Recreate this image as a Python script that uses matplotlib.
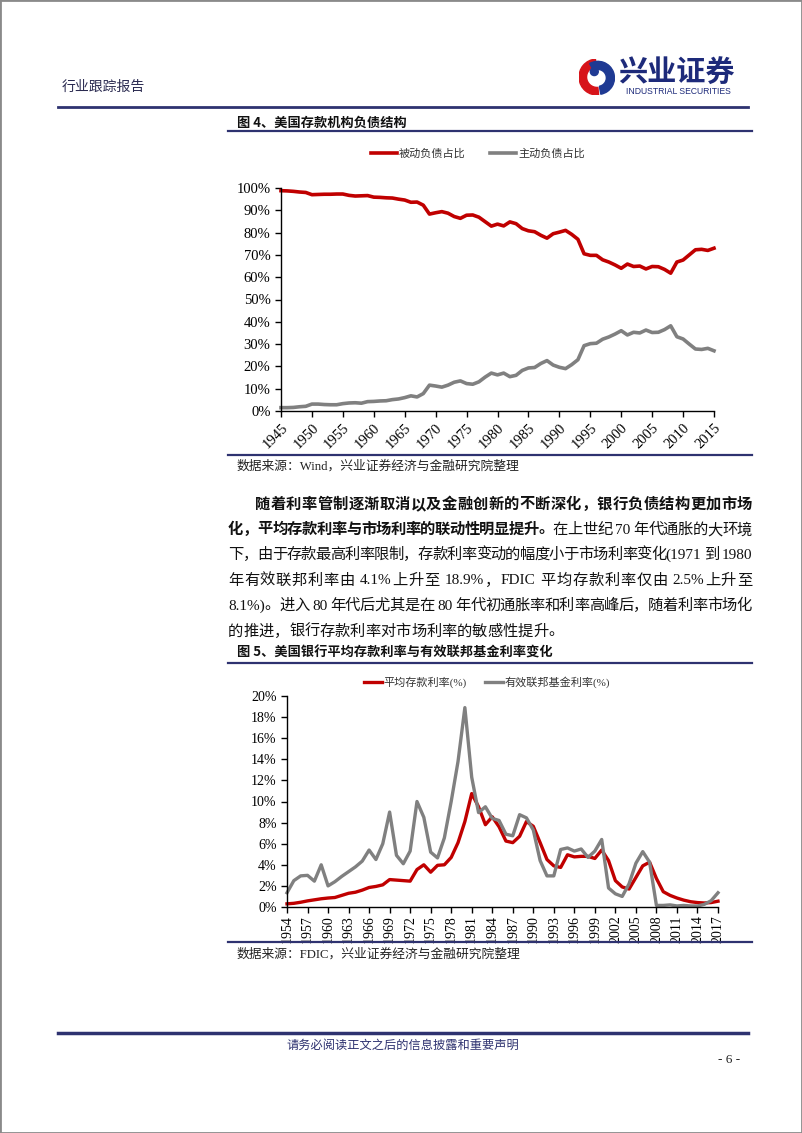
import re
import matplotlib
matplotlib.use('Agg')
import matplotlib.pyplot as plt
from matplotlib.lines import Line2D
from matplotlib.patches import Rectangle, Wedge, Circle

W, H = 802, 1133
NAVY = '#2e3270'
RED = '#c00000'
GRAY = '#808080'
CJK = ['Noto Sans CJK SC', 'DejaVu Sans']
SERIF_CJK = ['Liberation Serif', 'Noto Sans CJK SC']

# 图4 数据（%）
years1 = list(range(1945, 2016))
passive = [98.8, 98.7, 98.5, 98.2, 98.0, 97.0, 97.1, 97.2, 97.2, 97.3,
           97.3, 96.7, 96.4, 96.5, 96.6, 95.9, 95.8, 95.6, 95.5, 95.0,
           94.6, 93.6, 93.7, 92.3, 88.3, 88.9, 89.4, 88.7, 87.2, 86.4,
           87.8, 87.9, 86.9, 84.9, 82.9, 83.8, 83.0, 84.8, 84.0, 81.8,
           80.8, 80.4, 78.8, 77.5, 79.5, 80.2, 81.0, 79.2, 77.0, 70.5,
           69.8, 69.8, 67.8, 66.8, 65.5, 64.0, 65.9, 64.8, 65.0, 63.7,
           64.8, 64.7, 63.5, 61.8, 66.8, 67.7, 70.0, 72.3, 72.5, 72.0,
           73.0]
active = [1.5, 1.5, 1.6, 1.9, 2.1, 3.1, 3.1, 2.9, 2.8, 2.8,
          3.3, 3.6, 3.7, 3.5, 4.2, 4.3, 4.5, 4.6, 5.1, 5.4,
          6.0, 6.8, 6.3, 7.8, 11.6, 11.2, 10.7, 11.6, 12.9, 13.5,
          12.3, 12.0, 13.1, 15.2, 17.0, 16.2, 17.0, 15.4, 16.0, 18.2,
          19.3, 19.5, 21.3, 22.6, 20.6, 19.6, 19.0, 20.8, 23.0, 29.3,
          30.2, 30.4, 32.2, 33.2, 34.5, 36.0, 34.1, 35.3, 35.0, 36.3,
          35.2, 35.3, 36.5, 38.2, 33.3, 32.3, 30.0, 27.8, 27.6, 28.1,
          27.0]

# 图5 数据（%）
years2 = list(range(1954, 2018))
deposit_rate = [0.30, 0.35, 0.45, 0.58, 0.68, 0.78, 0.85, 0.90, 1.10, 1.30,
                1.40, 1.60, 1.85, 1.95, 2.10, 2.60, 2.55, 2.50, 2.45, 3.55,
                4.00, 3.30, 3.95, 4.00, 4.70, 6.10, 8.10, 10.75, 9.50, 7.80,
                8.55, 7.60, 6.25, 6.10, 6.70, 8.10, 7.65, 6.10, 4.50, 3.90,
                3.75, 4.95, 4.75, 4.80, 4.80, 4.60, 5.40, 4.40, 2.50, 1.90,
                1.70, 2.80, 3.90, 4.25, 2.70, 1.45, 1.10, 0.85, 0.65, 0.50,
                0.42, 0.38, 0.42, 0.55]
fed_rate = [1.35, 2.50, 2.95, 3.00, 2.45, 4.00, 2.00, 2.40, 2.90, 3.35,
            3.80, 4.35, 5.40, 4.50, 6.00, 9.00, 4.90, 4.10, 5.30, 10.00,
            8.50, 5.20, 4.65, 6.55, 10.00, 13.80, 18.90, 12.30, 8.95, 9.50,
            8.40, 8.20, 6.90, 6.75, 8.75, 8.45, 7.30, 4.40, 2.95, 2.95,
            5.45, 5.60, 5.30, 5.50, 4.70, 5.30, 6.40, 1.80, 1.25, 1.00,
            2.20, 4.15, 5.25, 4.25, 0.15, 0.15, 0.20, 0.10, 0.15, 0.10,
            0.10, 0.25, 0.60, 1.35]

fig = plt.figure(figsize=(W / 100, H / 100), dpi=100)


def fx(x):
    return x / W


def fy(y):
    return 1 - y / H


def hline(y, x0, x1, lw=1.6, color=NAVY):
    fig.add_artist(Line2D([fx(x0), fx(x1)], [fy(y), fy(y)], lw=lw, color=color))


def axes_px(l, t, r, b):
    return fig.add_axes([fx(l), fy(b), (r - l) / W, (b - t) / H])


def text_line(parts, y, x0, x1=None, size=11):
    # 逐字排版，两端对齐
    rend = fig.canvas.get_renderer()
    items = []
    for s, bold in parts:
        for tok in re.findall(r'[A-Za-z0-9.%()]+| |.', s):
            items.append((tok, bold))
    arts, widths = [], []
    for tok, bold in items:
        if tok == ' ':
            arts.append(None)
            widths.append(size * 0.25 * 100 / 72)
            continue
        t = fig.text(0, fy(y), tok, fontsize=size, family=SERIF_CJK,
                     fontweight='bold' if bold else 'normal', va='center', color='#111111')
        arts.append(t)
        widths.append(t.get_window_extent(rend).width)
    extra = 0
    if x1 is not None and len(items) > 1:
        extra = (x1 - x0 - sum(widths)) / (len(items) - 1)
    x = x0
    for a, w in zip(arts, widths):
        if a is not None:
            a.set_x(fx(x))
        x += w + extra


def style_axes(ax, size=10.5):
    for s in ['top', 'right']:
        ax.spines[s].set_visible(False)
    for s in ['left', 'bottom']:
        ax.spines[s].set_linewidth(1.0)
        ax.spines[s].set_color('black')
    ax.tick_params(direction='out', length=4, width=1, colors='black', labelsize=size)
    for lab in ax.get_xticklabels() + ax.get_yticklabels():
        lab.set_family('Liberation Serif')


# 页边框
fig.add_artist(Rectangle((0, 0), 1, 1, transform=fig.transFigure, fill=False,
                         ec='#8a8a8a', lw=2))

# 页眉
fig.text(fx(62), fy(87), '行业跟踪报告', fontsize=10, family=CJK, color='#2a2a50', va='center')
hline(107, 58, 748, lw=2.0)
lax = axes_px(579, 59, 615, 95)
lax.set_xlim(-1, 1)
lax.set_ylim(-1, 1)
lax.set_aspect('equal')
lax.axis('off')
lax.add_patch(Wedge((0, 0), 1.0, 95, 275, width=0.42, color='#d7141a'))
lax.add_patch(Wedge((0.05, -0.05), 0.92, -80, 120, width=0.45, color='#1f3a93'))
lax.add_patch(Circle((-0.15, 0.3), 0.22, color='#1f3a93'))
fig.text(fx(618), fy(73), '兴业证券', fontsize=21, family=CJK, fontweight='bold',
         color='#1d2a7a', va='center')
fig.text(fx(678), fy(92), 'INDUSTRIAL SECURITIES', fontsize=6.2,
         family=['Liberation Sans Narrow', 'Liberation Sans', 'DejaVu Sans'],
         color='#1d2a7a', va='center', ha='center')

# 图4
fig.text(fx(237), fy(123), '图 4、美国存款机构负债结构', fontsize=9.5, family=CJK,
         fontweight='bold', va='center', color='#111111')
hline(131, 228, 752)
ax1 = axes_px(281, 188, 714, 411)
ax1.plot(years1, passive, color=RED, lw=2.6, solid_joinstyle='round', clip_on=False, label='被动负债占比')
ax1.plot(years1, active, color=GRAY, lw=2.6, solid_joinstyle='round', clip_on=False, label='主动负债占比')
ax1.set_xlim(1945, 2015)
ax1.set_ylim(0, 100)
ax1.set_yticks(range(0, 101, 10))
ax1.set_yticklabels([f'{v}%' for v in range(0, 101, 10)])
ax1.set_xticks(range(1945, 2016, 5))
ax1.set_xticklabels([str(y) for y in range(1945, 2016, 5)], rotation=45, ha='right',
                    rotation_mode='anchor')
style_axes(ax1)
h1, l1 = ax1.get_legend_handles_labels()
fig.legend(h1, l1, loc='center', bbox_to_anchor=(fx(478), fy(154)), ncol=2, frameon=False,
           prop={'family': CJK, 'size': 8}, handlelength=2.3, handletextpad=0.2,
           columnspacing=2.2, labelcolor='#333333')
hline(455, 228, 752)
fig.text(fx(237), fy(466), '数据来源：Wind，兴业证券经济与金融研究院整理', fontsize=9.2,
         family=SERIF_CJK, va='center', color='#222222')

# 正文
text_line([('随着利率管制逐渐取消以及金融创新的不断深化，银行负债结构更加市场', True)], 505, 255, 752)
text_line([('化，平均存款利率与市场利率的联动性明显提升。', True),
           ('在上世纪 70 年代通胀的大环境', False)], 530, 228, 752)
text_line([('下，由于存款最高利率限制，存款利率变动的幅度小于市场利率变化(1971 到 1980', False)],
          555, 228, 752)
text_line([('年有效联邦利率由 4.1%上升至 18.9%，FDIC 平均存款利率仅由 2.5%上升至', False)],
          581, 228, 752)
text_line([('8.1%)。进入 80 年代后尤其是在 80 年代初通胀率和利率高峰后，随着利率市场化', False)],
          606, 228, 752)
text_line([('的推进，银行存款利率对市场利率的敏感性提升。', False)], 632, 228)

# 图5
fig.text(fx(237), fy(653), '图 5、美国银行平均存款利率与有效联邦基金利率变化', fontsize=9.5,
         family=CJK, fontweight='bold', va='center', color='#111111')
hline(663, 228, 752)
ax2 = axes_px(287, 696, 718, 907)
ax2.plot(years2, deposit_rate, color=RED, lw=2.4, solid_joinstyle='round', clip_on=False,
         label='平均存款利率(%)')
ax2.plot(years2, fed_rate, color=GRAY, lw=2.4, solid_joinstyle='round', clip_on=False,
         label='有效联邦基金利率(%)')
ax2.set_xlim(1954, 2017)
ax2.set_ylim(0, 20)
ax2.set_yticks(range(0, 21, 2))
ax2.set_yticklabels([f'{v}%' for v in range(0, 21, 2)])
ax2.set_xticks(range(1954, 2018, 3))
ax2.set_xticklabels([str(y) for y in range(1954, 2018, 3)], rotation=90)
style_axes(ax2, size=10)
ax2.tick_params(axis='x', pad=2)
h2, l2 = ax2.get_legend_handles_labels()
fig.legend(h2, l2, loc='center', bbox_to_anchor=(fx(487), fy(682)), ncol=2, frameon=False,
           prop={'family': SERIF_CJK, 'size': 8}, handlelength=1.6, handletextpad=0.2,
           columnspacing=1.6, labelcolor='#333333')
hline(942, 228, 752)
fig.text(fx(237), fy(954), '数据来源：FDIC，兴业证券经济与金融研究院整理', fontsize=9.2,
         family=SERIF_CJK, va='center', color='#222222')

# 页脚
hline(1033, 58, 748, lw=2.5)
fig.text(fx(403), fy(1045), '请务必阅读正文之后的信息披露和重要声明', fontsize=8.8, family=CJK,
         color='#2e3270', ha='center', va='center')
fig.text(fx(740), fy(1060), '- 6 -', fontsize=9.5, family='Liberation Serif', color='#222222',
         ha='right', va='center')

fig.savefig('out.png', dpi=100)
